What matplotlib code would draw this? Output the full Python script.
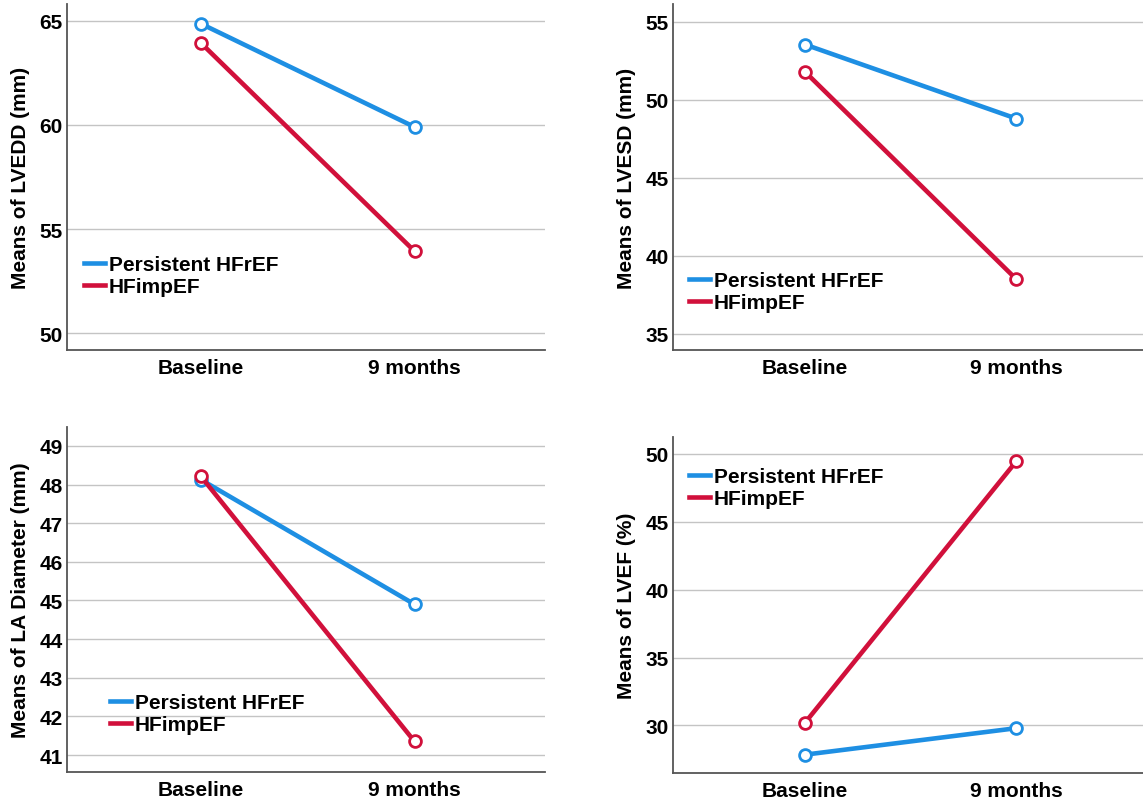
import matplotlib
matplotlib.use("Agg")
import matplotlib.pyplot as plt

plt.rcParams['font.family'] = ['Liberation Sans', 'DejaVu Sans']
plt.rcParams['font.weight'] = 'bold'

timepoints = ["Baseline", "9 months"]
groups = ["Persistent HFrEF", "HFimpEF"]

lvedd_persistent = [64.86, 59.9]
lvedd_impef = [63.94, 53.94]
lvesd_persistent = [53.55, 48.8]
lvesd_impef = [51.8, 38.5]
la_persistent = [48.13, 44.9]
la_impef = [48.22, 41.35]
lvef_persistent = [27.85, 29.8]
lvef_impef = [30.2, 49.45]

ylabels = ["Means of LVEDD (mm)", "Means of LVESD (mm)",
           "Means of LA Diameter (mm)", "Means of LVEF (%)"]
yticks_list = [[50, 55, 60, 65], [35, 40, 45, 50, 55],
               [41, 42, 43, 44, 45, 46, 47, 48, 49], [30, 35, 40, 45, 50]]
ylims = [(49.2, 65.8), (33.95, 56.15), (40.56, 49.49), (26.5, 51.25)]
series = [(lvedd_persistent, lvedd_impef), (lvesd_persistent, lvesd_impef),
          (la_persistent, la_impef), (lvef_persistent, lvef_impef)]

colors = ["#1E8FE3", "#D1103B"]

W, H = 1143, 803
fig = plt.figure(figsize=(W / 100, H / 100), dpi=100)

# axes boxes in pixels: left, top, right, bottom
boxes = [(67, 5, 545, 351), (673, 5, 1145, 351),
         (67, 428, 545, 773), (673, 438, 1145, 774)]
# legend anchor in pixels (handle start x, legend top y)
leg_px = [(84, 256), (689, 272), (110, 694), (689, 468)]

for i, (box, yl, yt, ylim, (sp, si), lp) in enumerate(
        zip(boxes, ylabels, yticks_list, ylims, series, leg_px)):
    l, t, r, b = box
    ax = fig.add_axes([l / W, 1 - b / H, (r - l) / W, (b - t) / H])
    x = list(range(len(timepoints)))
    for vals, c, g in zip((sp, si), colors, groups):
        ax.plot(x, vals, color=c, lw=3.3, marker='o', ms=8.5,
                mfc='white', mec=c, mew=2.0, label=g, solid_capstyle='butt')
    ax.set_xlim(-0.625, 1.61)
    ax.set_ylim(*ylim)
    ax.set_yticks(yt)
    ax.set_xticks(x)
    ax.set_xticklabels(timepoints)
    ax.yaxis.grid(True, color='#c4c4c4', lw=1.0)
    ax.set_axisbelow(True)
    for s in ['top', 'right']:
        ax.spines[s].set_visible(False)
    for s in ['left', 'bottom']:
        ax.spines[s].set_color('#555555')
        ax.spines[s].set_linewidth(1.3)
    ax.tick_params(axis='x', length=0, labelsize=15, pad=6)
    ax.tick_params(axis='y', length=0, labelsize=15, pad=3)
    for lab in ax.get_xticklabels() + ax.get_yticklabels():
        lab.set_fontweight('bold')
    ax.set_ylabel(yl, fontsize=15, fontweight='bold', labelpad=7)
    # legend
    hx, ty = lp
    ax_x = (hx - l) / (r - l)
    ax_y = (b - ty) / (b - t)
    handles = [plt.Line2D([], [], color=c, lw=3.3) for c in colors]
    ax.legend(handles, groups, loc='upper left', bbox_to_anchor=(ax_x, ax_y),
              frameon=False, borderpad=0, borderaxespad=0, handlelength=1.0,
              handletextpad=0.2, labelspacing=0.15,
              prop={'size': 15, 'weight': 'bold'})

fig.savefig("out.png", dpi=100)
